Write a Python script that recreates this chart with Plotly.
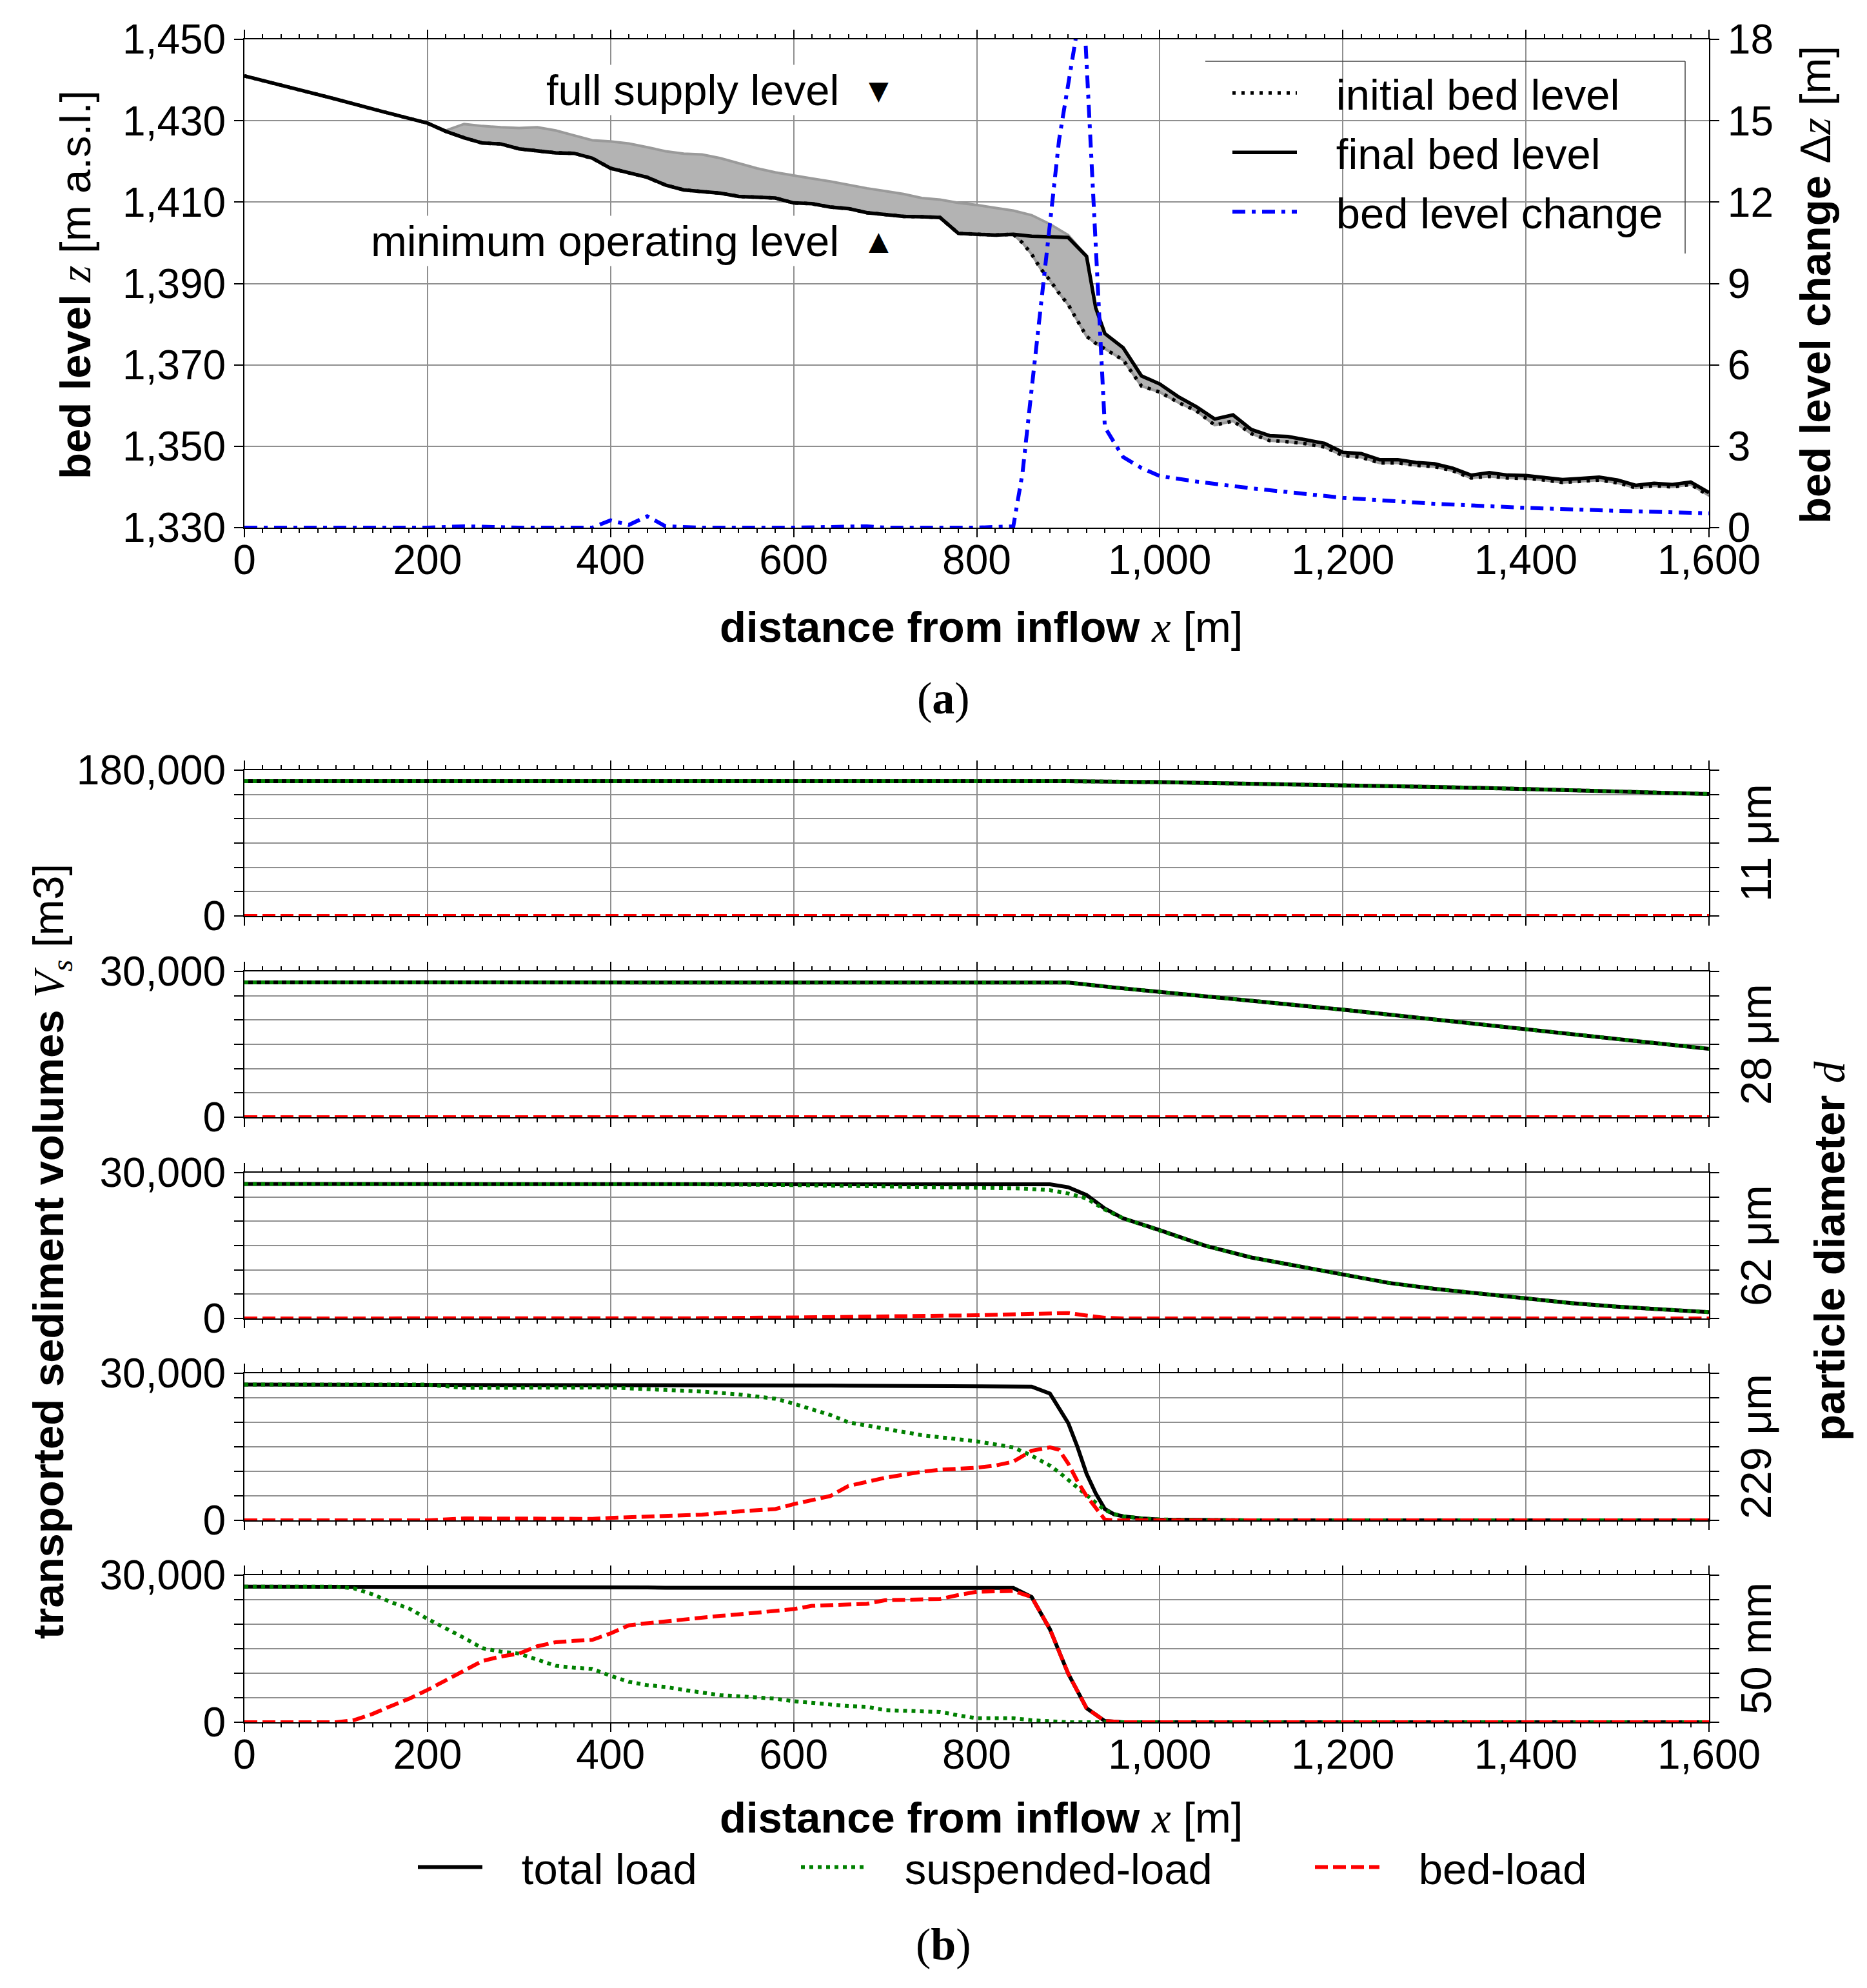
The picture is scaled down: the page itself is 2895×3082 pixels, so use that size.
import plotly.graph_objects as go

# ---------------- (a) bed level along the reservoir ----------------
x_final = [0, 50, 100, 150, 200, 220, 240, 260, 280, 300, 320, 340, 360, 380, 400, 420, 440, 460, 480, 500,
           520, 540, 560, 580, 600, 620, 640, 660, 680, 700, 720, 740, 760, 780, 800, 820, 840, 860, 880, 900,
           920, 930, 940, 960, 980, 1000, 1020, 1040, 1060, 1080, 1100, 1120, 1140, 1160, 1180, 1200, 1220,
           1240, 1260, 1280, 1300, 1320, 1340, 1360, 1380, 1400, 1420, 1440, 1460, 1480, 1500, 1520, 1540,
           1560, 1580, 1600]
z_final = [1441.0, 1438.2, 1435.3, 1432.3, 1429.4, 1427.4, 1425.8, 1424.5, 1424.3, 1423.1, 1422.7, 1422.1,
           1422.0, 1420.8, 1418.3, 1417.3, 1416.1, 1414.2, 1413.0, 1412.6, 1412.2, 1411.4, 1411.2, 1411.0,
           1409.8, 1409.6, 1408.8, 1408.4, 1407.4, 1407.0, 1406.5, 1406.4, 1406.2, 1402.3, 1402.1, 1401.9,
           1402.1, 1401.6, 1401.5, 1401.3, 1396.7, 1384.0, 1377.7, 1374.2, 1367.3, 1365.3, 1362.2, 1359.7,
           1356.7, 1357.7, 1354.1, 1352.6, 1352.4, 1351.5, 1350.7, 1348.5, 1348.2, 1346.7, 1346.7, 1346.0,
           1345.7, 1344.6, 1342.9, 1343.5, 1342.9, 1342.8, 1342.4, 1341.8, 1342.1, 1342.4, 1341.7, 1340.4,
           1340.9, 1340.6, 1341.2, 1338.6]

# initial bed downstream of 840 m (upstream it coincides with the final bed)
x_init_ds = [840, 850, 860, 870, 880, 890, 900, 910, 920, 930, 940, 960, 980, 1000, 1020, 1040, 1060, 1080,
             1100, 1120, 1140, 1160, 1180, 1200, 1220, 1240, 1260, 1280, 1300, 1320, 1340, 1360, 1380, 1400,
             1420, 1440, 1460, 1480, 1500, 1520, 1540, 1560, 1580, 1600]
z_init_ds = [1402.1, 1400.0, 1397.2, 1393.6, 1390.8, 1387.6, 1384.8, 1381.0, 1377.0, 1375.3, 1374.0, 1371.2,
             1364.8, 1363.3, 1360.8, 1358.7, 1355.2, 1356.2, 1353.1, 1351.4, 1351.1, 1350.6, 1349.8, 1347.7,
             1347.3, 1345.9, 1345.9, 1345.3, 1345.0, 1344.0, 1342.2, 1342.6, 1342.2, 1342.1, 1341.7, 1341.1,
             1341.4, 1341.7, 1341.0, 1339.8, 1340.3, 1340.0, 1340.6, 1337.9]

# highest bed level reached during the run (upper edge of grey band)
x_env = [200, 220, 240, 260, 280, 300, 320, 340, 360, 380, 400, 420, 440, 460, 480, 500, 520, 540, 560, 580,
         600, 620, 640, 660, 680, 700, 720, 740, 760, 780, 800, 820, 840, 860, 880, 900]
z_env = [1429.4, 1427.6, 1429.2, 1428.7, 1428.4, 1428.2, 1428.4, 1427.6, 1426.4, 1425.2, 1424.9, 1424.4,
         1423.5, 1422.5, 1421.9, 1421.7, 1420.8, 1419.5, 1418.3, 1417.3, 1416.5, 1415.8, 1415.1, 1414.2,
         1413.4, 1412.7, 1412.0, 1411.0, 1410.6, 1409.8, 1409.3, 1408.6, 1407.9, 1406.8, 1404.6, 1401.9]

x_dz = [0, 100, 200, 240, 300, 380, 400, 420, 440, 460, 500, 600, 680, 700, 800, 840, 850, 860, 870, 880,
        890, 900, 910, 918, 925, 930, 935, 940, 960, 980, 1000, 1040, 1100, 1200, 1300, 1400, 1500, 1600]
dz = [0.0, 0.0, 0.0, 0.05, 0.0, 0.0, 0.27, 0.1, 0.42, 0.05, 0.0, 0.0, 0.05, 0.0, 0.0, 0.05, 2.0, 5.1, 8.0,
      11.2, 14.3, 16.4, 18.4, 18.5, 13.8, 10.1, 6.4, 3.7, 2.6, 2.2, 1.9, 1.7, 1.45, 1.1, 0.88, 0.73, 0.62, 0.53]

# ---------------- (b) transported sediment volumes per grain size ----------------
sizes = ["11 μm", "28 μm", "62 μm", "229 μm", "50 mm"]

x_11 = [0, 200, 400, 600, 800, 900, 1000, 1100, 1200, 1300, 1400, 1500, 1600]
tot_11 = [166500, 166500, 166500, 166500, 166500, 166400, 165200, 163500, 161700, 159300, 156800, 153800, 150600]
sus_11 = [166500, 166500, 166500, 166500, 166500, 166400, 165200, 163500, 161700, 159300, 156800, 153800, 150600]
bed_11 = [0, 0, 0, 0, 0, 0, 0, 0, 0, 0, 0, 0, 0]

x_28 = [0, 200, 400, 600, 800, 900, 950, 1000, 1100, 1200, 1300, 1400, 1500, 1600]
tot_28 = [27750, 27750, 27750, 27750, 27750, 27700, 26700, 25740, 23970, 22120, 20100, 18100, 16100, 14080]
sus_28 = [27750, 27750, 27750, 27750, 27750, 27700, 26700, 25740, 23970, 22120, 20100, 18100, 16100, 14080]
bed_28 = [0, 0, 0, 0, 0, 0, 0, 0, 0, 0, 0, 0, 0, 0]

x_62 = [0, 200, 400, 500, 600, 700, 800, 850, 880, 900, 920, 940, 960, 1000, 1050, 1100, 1150, 1200, 1250,
        1300, 1350, 1400, 1450, 1500, 1550, 1600]
tot_62 = [27670, 27670, 27670, 27670, 27670, 27670, 27670, 27650, 27600, 27000, 25400, 22600, 20600, 18180,
          14960, 12550, 10780, 8930, 7320, 6110, 5070, 4100, 3140, 2410, 1850, 1290]
sus_62 = [27670, 27670, 27670, 27600, 27450, 27250, 27000, 26750, 26400, 25700, 24700, 22400, 20600, 18180,
          14960, 12550, 10780, 8930, 7320, 6110, 5070, 4100, 3140, 2410, 1850, 1290]
bed_62 = [0, 0, 0, 50, 200, 400, 650, 900, 1100, 1100, 600, 150, 0, 0, 0, 0, 0, 0, 0, 0, 0, 0, 0, 0, 0, 0]

x_229 = [0, 100, 200, 240, 300, 380, 400, 460, 500, 540, 580, 600, 640, 660, 700, 740, 760, 800, 820, 840,
         860, 880, 890, 900, 910, 920, 930, 940, 950, 960, 980, 1000, 1100, 1200, 1400, 1600]
tot_229 = [27690, 27690, 27690, 27690, 27690, 27690, 27650, 27600, 27600, 27550, 27520, 27520, 27500, 27480,
           27460, 27440, 27440, 27400, 27380, 27350, 27270, 25870, 23000, 19840, 15000, 9500, 5500, 2310,
           1240, 830, 410, 165, 0, 0, 0, 0]
sus_229 = [27690, 27690, 27690, 27030, 27100, 27270, 27100, 26600, 26280, 25700, 24800, 23800, 21500, 20000,
           18600, 17360, 16950, 16120, 15500, 14880, 13200, 11160, 9800, 8260, 6600, 4960, 3400, 2070, 1300,
           830, 410, 165, 0, 0, 0, 0]
bed_229 = [0, 0, 0, 400, 300, 300, 500, 830, 1160, 1820, 2310, 3300, 4960, 7020, 8680, 9920, 10330, 10740,
           11160, 11980, 14200, 14880, 14400, 11570, 8000, 4960, 2480, 165, 0, 0, 0, 0, 0, 0, 0, 0]

x_50 = [0, 100, 120, 140, 160, 180, 200, 220, 240, 260, 280, 300, 320, 340, 360, 380, 400, 420, 440, 460, 480,
        500, 520, 540, 560, 580, 600, 620, 640, 660, 680, 700, 720, 740, 760, 780, 800, 820, 840, 860, 880,
        900, 920, 940, 960, 1000, 1200, 1400, 1600]
tot_50 = [27670, 27670, 27670, 27670, 27670, 27670, 27670, 27670, 27670, 27670, 27670, 27670, 27670, 27670,
          27670, 27670, 27600, 27550, 27500, 27450, 27420, 27400, 27400, 27400, 27400, 27400, 27400, 27400,
          27400, 27400, 27400, 27400, 27400, 27400, 27400, 27400, 27400, 27400, 27400, 25550, 18960, 9890,
          2880, 250, 0, 0, 0, 0, 0]
sus_50 = [27670, 27670, 27300, 26100, 24500, 23200, 21080, 19200, 17200, 15100, 14400, 14000, 12770, 11530,
          11120, 10880, 9480, 8240, 7580, 7200, 6590, 6000, 5520, 5300, 5110, 4800, 4290, 3950, 3630, 3300,
          3130, 2470, 2350, 2310, 2100, 1400, 820, 820, 820, 410, 200, 0, 0, 0, 0, 0, 0, 0, 0]
bed_50 = [0, 0, 440, 1700, 3300, 4800, 6590, 8600, 10500, 12500, 13400, 14000, 15500, 16320, 16600, 16810,
          18130, 19780, 20200, 20600, 21000, 21430, 21700, 22000, 22300, 22670, 23080, 23740, 23900, 24000,
          24150, 24890, 25000, 25140, 25140, 25960, 26620, 26700, 26790, 25550, 18960, 9890, 2880, 250, 0, 0,
          0, 0, 0]

panels = [
    (x_11, tot_11, sus_11, bed_11, 180000),
    (x_28, tot_28, sus_28, bed_28, 30000),
    (x_62, tot_62, sus_62, bed_62, 30000),
    (x_229, tot_229, sus_229, bed_229, 30000),
    (x_50, tot_50, sus_50, bed_50, 30000),
]

W, H = 2895, 3082
OFF = 8  # page body margin of the browser
FONT = "Liberation Sans"
SERIF = "Liberation Serif"
GRID = "#8f8f8f"
FS = 64   # tick labels
TS = 67   # titles, legend, notes
PAD = "\u00a0\u00a0\u00a0"

def py(px):  # pixel row of the reference -> paper y
    return 1 - (px - OFF) / H

def pxx(px):  # pixel column of the reference -> paper x
    return (px - OFF) / W

xdom = [pxx(379), pxx(2650)]

fig = go.Figure()

# grey band: envelope of bed levels during the simulation
init_x = [x for x in x_final if x < 840] + x_init_ds
init_z = [z for x, z in zip(x_final, z_final) if x < 840] + z_init_ds
top_x = x_env + [x for x in x_final if x > 900]
top_z = z_env + [z for x, z in zip(x_final, z_final) if x > 900]
low_x = [x for x in init_x if x >= 200]
low_z = [z for x, z in zip(init_x, init_z) if x >= 200]
fig.add_trace(go.Scatter(x=top_x + low_x[::-1], y=top_z + low_z[::-1], fill="toself",
                         fillcolor="#b3b3b3", line=dict(color="#9a9a9a", width=4),
                         mode="lines", showlegend=False, hoverinfo="skip", xaxis="x", yaxis="y"))

fig.add_trace(go.Scatter(x=init_x, y=init_z, mode="lines", name=PAD + "initial bed level",
                         line=dict(color="black", width=5.5, dash="5px,9px"),
                         legendgroup="a1", xaxis="x", yaxis="y"))
fig.add_trace(go.Scatter(x=x_final, y=z_final, mode="lines", name=PAD + "final bed level",
                         line=dict(color="black", width=5.5), legendgroup="a2", xaxis="x", yaxis="y"))
fig.add_trace(go.Scatter(x=x_dz, y=dz, mode="lines", name=PAD + "bed level change",
                         line=dict(color="#0000ff", width=6, dash="20px,10px,6px,10px"),
                         legendgroup="a3", xaxis="x", yaxis="y2"))

# panel rows (top, bottom) in pixels
rows = [(1194, 1420), (1506, 1732), (1818, 2044), (2129, 2357), (2442, 2670)]

for i, (xs, tot, sus, bed, ymax) in enumerate(panels):
    xa = "x%d" % (i + 2)
    ya = "y%d" % (i + 3)
    first = i == 0
    fig.add_trace(go.Scatter(x=xs, y=tot, mode="lines", name=PAD + "total load", legend="legend2",
                             showlegend=first, line=dict(color="black", width=6), xaxis=xa, yaxis=ya))
    fig.add_trace(go.Scatter(x=xs, y=sus, mode="lines", name=PAD + "suspended-load", legend="legend3",
                             showlegend=first, line=dict(color="#008000", width=6, dash="6px,7px"),
                             xaxis=xa, yaxis=ya))
    fig.add_trace(go.Scatter(x=xs, y=bed, mode="lines", name=PAD + "bed-load", legend="legend4",
                             showlegend=first, line=dict(color="#ff0000", width=6, dash="20px,8px"),
                             xaxis=xa, yaxis=ya))

xcommon = dict(range=[0, 1600], dtick=200, tickformat=",d", ticks="outside", ticklen=13, tickwidth=2,
               tickcolor="black", ticklabelstandoff=-20,
               minor=dict(dtick=20, ticks="outside", ticklen=6, tickwidth=1.5,
                          tickcolor="black", showgrid=False),
               showline=True, linecolor="black", linewidth=2, mirror="ticks", automargin=False,
               showgrid=True, gridcolor=GRID, gridwidth=1.5, zeroline=False, domain=xdom)

layout = dict(
    width=W, height=H, margin=dict(l=0, r=0, t=0, b=0, autoexpand=False),
    paper_bgcolor="white", plot_bgcolor="white",
    font=dict(family=FONT, size=FS, color="black"),
    xaxis=dict(xcommon, anchor="y"),
    yaxis=dict(domain=[py(818), py(61)], range=[1330, 1450], tick0=1330, dtick=20, tickformat=",d",
               ticks="outside", ticklen=14, tickwidth=2, tickcolor="black", showline=True,
               linecolor="black", linewidth=2, showgrid=True, gridcolor=GRID, gridwidth=2,
               zeroline=False, automargin=False),
    yaxis2=dict(overlaying="y", side="right", anchor="x", range=[0, 18], dtick=3, ticks="outside",
                ticklen=14, tickwidth=2, tickcolor="black", showline=True, linecolor="black", linewidth=2,
                showgrid=False, zeroline=False, automargin=False),
    legend=dict(x=pxx(1906), y=py(94), xanchor="left", yanchor="top", bgcolor="rgba(0,0,0,0)",
                traceorder="grouped", tracegroupgap=2, itemwidth=100, font=dict(size=TS)),
    showlegend=True,
)

leg_y = py(2895)
for name, xpix in [("legend2", 643), ("legend3", 1237), ("legend4", 2034)]:
    layout[name] = dict(x=pxx(xpix), y=leg_y, xanchor="left", yanchor="middle", itemwidth=100,
                        bgcolor="rgba(0,0,0,0)", font=dict(size=TS))

for i, (xs, tot, sus, bed, ymax) in enumerate(panels):
    top, bot = rows[i]
    layout["xaxis%d" % (i + 2)] = dict(xcommon, anchor="y%d" % (i + 3), showticklabels=(i == 4))
    layout["yaxis%d" % (i + 3)] = dict(
        domain=[py(bot), py(top)], anchor="x%d" % (i + 2), range=[0, ymax],
        tickvals=[0, ymax], ticktext=["0", "{:,}".format(ymax)], ticks="outside", ticklen=14,
        tickwidth=2, tickcolor="black",
        minor=dict(dtick=ymax / 6, ticks="outside", ticklen=14, tickwidth=2, tickcolor="black",
                   showgrid=True, gridcolor=GRID, gridwidth=2),
        showline=True, linecolor="black", linewidth=2, mirror="ticks", automargin=False,
        showgrid=True, gridcolor=GRID, gridwidth=2, zeroline=False)

fig.update_layout(layout)

# white box behind the upper legend with its top/right frame
fig.add_shape(type="rect", xref="paper", yref="paper", x0=pxx(1869), x1=pxx(2613), y0=py(393), y1=py(95),
              fillcolor="white", line=dict(width=0), layer="between")
fig.add_shape(type="line", xref="paper", yref="paper", x0=pxx(1869), x1=pxx(2613), y0=py(95), y1=py(95),
              line=dict(color="#444444", width=1.5))
fig.add_shape(type="line", xref="paper", yref="paper", x0=pxx(2613), x1=pxx(2613), y0=py(95), y1=py(393),
              line=dict(color="#444444", width=1.5))

ann = []
def note(text, x, y, size=TS, angle=0, family=FONT, **kw):
    ann.append(dict(text=text, x=x, y=y, xref="paper", yref="paper", showarrow=False, textangle=angle,
                    font=dict(family=family, size=size, color="black"), xanchor="center",
                    yanchor="middle", **kw))

zi = '<span style="font-family:%s"><i>%s</i></span>'
note("<b>bed level</b> " + zi % (SERIF, "z") + " [m a.s.l.]", pxx(116), py(442), angle=-90)
note("<b>bed level change</b> Δ" + zi % (SERIF, "z") + " [m]", pxx(2814), py(442), angle=-90)
note("<b>distance from inflow</b> " + zi % (SERIF, "x") + " [m]", pxx(1521), py(972))
note("(<b>a</b>)", pxx(1463), py(1082), size=70, family=SERIF)
note("<b>transported sediment volumes</b> " + zi % (SERIF, "V<sub>s</sub>") + " [m3]",
     pxx(79), py(1940), angle=-90)
note("<b>particle diameter</b> " + zi % (SERIF, "d"), pxx(2836), py(1940), angle=-90)
note("<b>distance from inflow</b> " + zi % (SERIF, "x") + " [m]", pxx(1521), py(2817))
note("(<b>b</b>)", pxx(1463), py(3014), size=70, family=SERIF)
for i, s in enumerate(sizes):
    top, bot = rows[i]
    note(s, pxx(2722), py((top + bot) / 2), angle=-90)

# reservoir level labels inside panel (a)
ann.append(dict(text="full supply level", x=651, y=1437.5, xref="x", yref="y", showarrow=False,
                xanchor="right", yanchor="middle", bgcolor="white", font=dict(size=TS)))
ann.append(dict(text="▼", x=693, y=1437.5, xref="x", yref="y", showarrow=False,
                xanchor="center", yanchor="middle", font=dict(family="DejaVu Sans", size=40)))
ann.append(dict(text="minimum operating level", x=651, y=1400.5, xref="x", yref="y", showarrow=False,
                xanchor="right", yanchor="middle", bgcolor="white", font=dict(size=TS)))
ann.append(dict(text="▲", x=693, y=1400.5, xref="x", yref="y", showarrow=False,
                xanchor="center", yanchor="middle", font=dict(family="DejaVu Sans", size=40)))

fig.update_layout(annotations=ann)

fig.write_html("out.html")
